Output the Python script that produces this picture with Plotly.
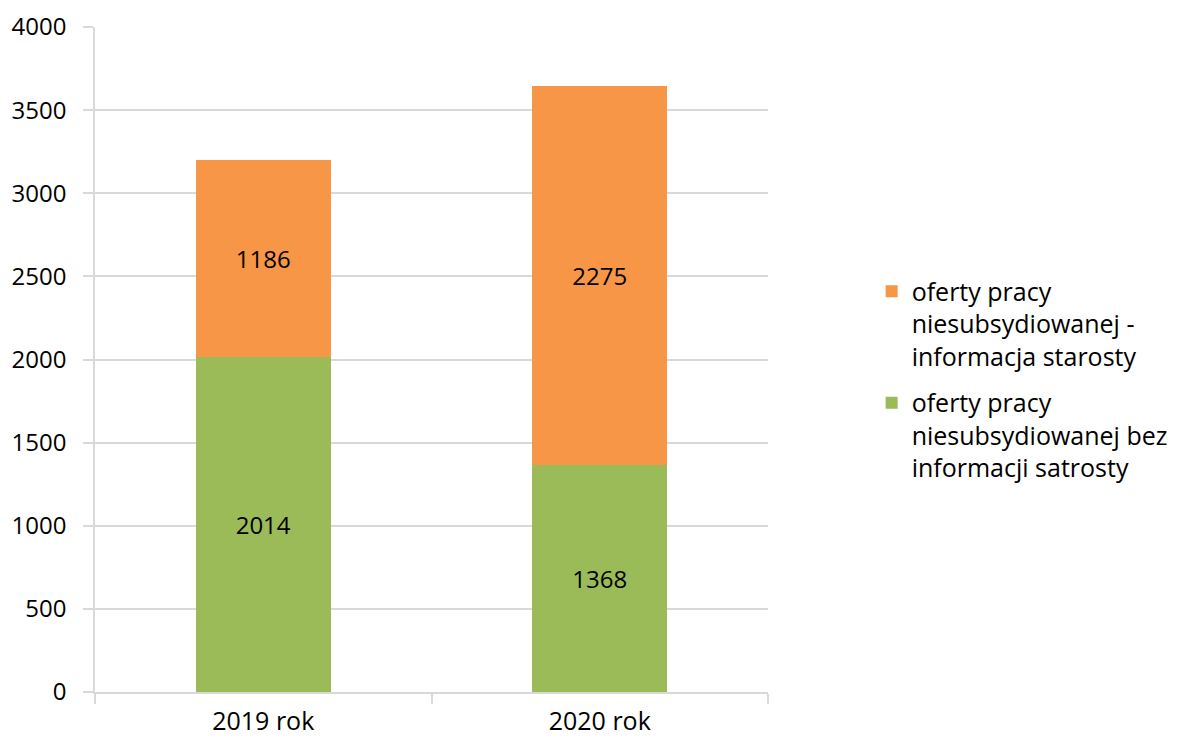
import plotly.graph_objects as go

categories = ["2019 rok", "2020 rok"]
bez_info = [2014, 1368]
info_starosty = [1186, 2275]
name_green = "oferty pracy<br>niesubsydiowanej bez<br>informacji satrosty"
name_orange = "oferty pracy<br>niesubsydiowanej -<br>informacja starosty"
y_ticks = [0, 500, 1000, 1500, 2000, 2500, 3000, 3500, 4000]

FONT = "'Open Sans', sans-serif"

fig = go.Figure()
fig.add_trace(go.Bar(
    x=categories, y=bez_info, name=name_green, legendgroup="g", legendrank=2,
    marker=dict(color="#9BBB59", line=dict(width=0)),
    text=[str(v) for v in bez_info], textposition="inside", insidetextanchor="middle",
    textfont=dict(size=24, color="#000000", family=FONT), width=0.4,
))
fig.add_trace(go.Bar(
    x=categories, y=info_starosty, name=name_orange, legendgroup="o", legendrank=1,
    marker=dict(color="#F79646", line=dict(width=0)),
    text=[str(v) for v in info_starosty], textposition="inside", insidetextanchor="middle",
    textfont=dict(size=24, color="#000000", family=FONT), width=0.4,
))

fig.update_layout(
    barmode="stack",
    width=1198, height=738,
    margin=dict(l=87, r=438, t=19, b=54),
    plot_bgcolor="white", paper_bgcolor="white",
    font=dict(family=FONT, size=22, color="#000000"),
    showlegend=True,
    legend=dict(
        traceorder="grouped", x=1.154, xanchor="left", y=0.637, yanchor="top",
        font=dict(size=25, family=FONT, color="#000000"),
        tracegroupgap=11, itemwidth=30, valign="top",
    ),
    uniformtext=dict(mode="show", minsize=10),
)
fig.update_yaxes(
    range=[0, 4000], tickvals=y_ticks, ticktext=[str(v) for v in y_ticks],
    showgrid=True, gridcolor="#D9D9D9", gridwidth=1.5,
    showline=True, linecolor="#D9D9D9", linewidth=1.5,
    ticks="outside", ticklen=10, tickcolor="#D9D9D9", tickwidth=1.5,
    tickfont=dict(size=24), zeroline=False, automargin=False,
    ticklabelstandoff=12,
)
fig.update_xaxes(
    showline=True, linecolor="#D9D9D9", linewidth=1.5,
    ticks="outside", ticklen=10, tickcolor="#D9D9D9", tickwidth=1.5,
    tickson="boundaries", tickfont=dict(size=25), automargin=False,
    ticklabelstandoff=6,
)

fig.write_html("out.html")
